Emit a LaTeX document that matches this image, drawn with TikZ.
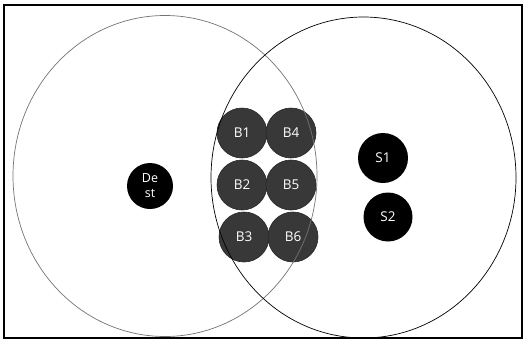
\documentclass[tikz,border=0pt]{standalone}
\usepackage{fontspec}
\setmainfont{Open Sans}
\begin{document}
\begin{tikzpicture}[x=1pt,y=-1pt,
  bnode/.style={circle,fill=black!78,draw=black!85,line width=0.6pt,minimum size=50pt,inner sep=0pt,text=white,font=\fontsize{13.5}{13.5}\selectfont},
  dnode/.style={circle,fill=black,minimum size=48pt,inner sep=0pt,text=white,font=\fontsize{13.5}{13.5}\selectfont},
  rangering/.style={line width=0.7pt}]
\useasboundingbox (0,0) rectangle (527,343);
\draw[line width=1.3pt] (4,5) rectangle (522,338);
\node[bnode] (b1) at (242,133) {B1};
\node[bnode] (b4) at (291,133) {B4};
\node[bnode] (b2) at (242,185) {B2};
\node[bnode] (b5) at (291,185) {B5};
\node[bnode] (b3) at (244,237) {B3};
\node[bnode] (b6) at (293,237) {B6};
\node[dnode,minimum size=46pt,align=center,font=\fontsize{12.5}{15}\selectfont] (dest) at (150,186) {De\\st};
\node[dnode,minimum size=50pt] (s1) at (383,158) {S1};
\node[dnode,minimum size=49pt] (s2) at (388,217) {S2};
\draw[rangering,draw=black!55] (165,176) ellipse [x radius=152, y radius=160.5];
\draw[rangering,draw=black] (363.5,177.5) ellipse [x radius=152.5, y radius=160.5];
\end{tikzpicture}
\end{document}
